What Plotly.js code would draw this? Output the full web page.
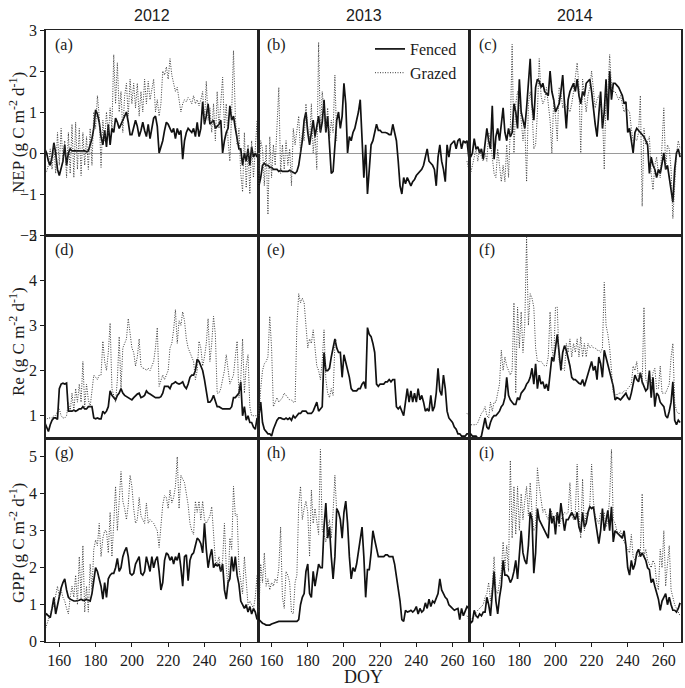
<!DOCTYPE html>
<html>
<head>
<meta charset="utf-8">
<script src="https://cdn.plot.ly/plotly-3.0.1.min.js"></script>
<style>
  html, body { margin: 0; padding: 0; background: #fff; }
  #chart { width: 685px; height: 688px; }
</style>
</head>
<body>
<div id="chart"></div>
<script>
// day of year, shared by every panel
const doy = [
  152, 153, 154, 155, 156, 157, 158, 159, 160, 161,
  162, 163, 164, 165, 166, 167, 168, 169, 170, 171,
  172, 173, 174, 175, 176, 177, 178, 179, 180, 181,
  182, 183, 184, 185, 186, 187, 188, 189, 190, 191,
  192, 193, 194, 195, 196, 197, 198, 199, 200, 201,
  202, 203, 204, 205, 206, 207, 208, 209, 210, 211,
  212, 213, 214, 215, 216, 217, 218, 219, 220, 221,
  222, 223, 224, 225, 226, 227, 228, 229, 230, 231,
  232, 233, 234, 235, 236, 237, 238, 239, 240, 241,
  242, 243, 244, 245, 246, 247, 248, 249, 250, 251,
  252, 253, 254, 255, 256, 257, 258, 259, 260, 261,
  262, 263, 264, 265, 266, 267, 268, 269
];

const years = ["2012", "2013", "2014"];
const seriesNames = ["Fenced", "Grazed"];
const rowTitles = [
  "NEP (g C m<sup>-2</sup> d<sup>-1</sup>)",
  "Re (g C m<sup>-2</sup> d<sup>-1</sup>)",
  "GPP (g C m<sup>-2</sup> d<sup>-1</sup>)"
];
const panelLabels = ["(a)", "(b)", "(c)", "(d)", "(e)", "(f)", "(g)", "(h)", "(i)"];
const xTicks = [160, 180, 200, 220, 240, 260];
const yTicksNep = [-2, -1, 0, 1, 2, 3];
const yTicksRe = [1, 2, 3, 4, 5];
const yTicksGpp = [0, 1, 2, 3, 4, 5];

// ---- NEP ----
const nepFenced2012 = [
  0.1, 0.0, -0.2, -0.3, -0.1, 0.25, 0.0, -0.4, -0.55, -0.4,
  -0.2, 0.2, -0.3, 0.0, 0.1, 0.05, 0.05, 0.05, 0.05, 0.04,
  0.05, 0.04, 0.05, 0.03, 0.05, 0.2, 0.35, 0.6, 1.05, 0.95,
  0.75, 0.4, 0.2, 0.55, 0.15, 0.7, 0.2, 0.6, 0.5, 0.85,
  0.75, 0.6, 0.7, 0.8, 0.9, 1.0, 0.75, 0.45, 0.45, 0.6,
  0.8, 0.65, 0.4, 0.55, 0.75, 0.55, 0.4, 0.7, 0.35, 0.6,
  0.85, 0.9, 0.65, 0.0, 0.15, 0.3, 0.55, 0.75, 0.7, 0.6,
  0.5, 0.6, 0.35, 0.6, 0.45, 0.55, -0.15, 0.3, 0.5, 0.6,
  0.55, 0.5, 0.6, 0.4, 0.75, 0.4, 0.6, 1.25, 0.7, 0.9,
  1.2, 0.7, 0.75, 0.8, 0.6, 0.65, 0.7, 0.8, 0.0, 0.3,
  0.5, 0.6, 1.15, 0.8, 0.9, 0.6, 0.3, 0.1, 0.1, -0.3,
  0.0, -0.2, 0.1, -0.3, 0.15, -0.1, 0.0, -0.1
];
const nepGrazed2012 = [
  -0.5, -0.45, -0.3, 0.1, -0.4, 0.2, -0.5, 0.5, -0.3, 0.6,
  -0.2, 0.3, -0.6, 0.5, -0.5, 0.7, -0.6, 0.75, -0.4, 0.6,
  -0.55, 0.5, -0.3, 0.4, -0.4, 0.6, -0.3, 1.0, 0.6, 1.4,
  0.9, -0.35, 0.8, 0.3, 1.0, 0.4, 1.1, 0.6, 2.4, 1.2,
  2.2, 1.0, 1.5, 0.5, 1.4, 1.7, 0.9, 1.8, 1.2, 1.7,
  1.1, 1.7, 0.9, 1.5, 1.0, 1.8, 1.2, 1.75, 1.3, 1.6,
  1.8, 1.0, 1.3, 0.9, 1.2, 2.0, 1.9, 2.1, 1.8, 2.3,
  1.9, 1.7, 1.5, 1.6, 1.3, 1.0, 1.2, 1.3, 1.25, 1.35,
  1.3, 1.2, 1.4, 1.2, 1.3, 1.15, 1.3, 1.5, 0.7, 1.75,
  0.8, 1.1, 0.5, 1.2, 0.3, 1.5, 0.6, 1.3, 1.85, 0.6,
  1.2, 0.3, -0.2, 1.0, 2.5, 0.9, 0.2, 0.6, -0.5, -0.95,
  0.5, -0.85, 0.2, -1.0, 0.3, -0.6, 0.2, 0.8
];
const nepFenced2013 = [
  -0.3, -0.8, -0.6, -0.3, -0.25, -0.3, -0.3, -0.35, -0.35, -0.4,
  -0.4, -0.4, -0.45, -0.42, -0.45, -0.45, -0.45, -0.45, -0.42, -0.45,
  -0.48, -0.5, -0.45, -0.3, 0.0, 0.3, 0.8, 1.0, 0.5, 0.2,
  0.5, 0.8, 0.4, 0.7, 0.9, 0.5, 0.75, 1.3, 0.5, 0.9,
  0.3, -0.5, -0.45, 0.2, 0.8, 1.0, 0.6, 0.9, 1.7, 1.2,
  0.0, 0.4, 0.3, 0.5, 0.6, 0.8, 1.0, 1.3, 0.4, -0.6,
  0.2, -1.0, -0.4, 0.2, 0.3, 0.5, 0.7, 0.55, 0.55, 0.5,
  0.5, 0.5, 0.48, 0.45, 0.45, 0.7, 0.5, 0.3, -0.2, -0.8,
  -1.0, -0.6, -0.75, -0.6, -0.7, -0.8, -0.7, -0.65, -0.55, -0.5,
  -0.45, -0.4, -0.3, -0.1, 0.1, -0.2, -0.25, -0.3, -0.4, -0.8,
  -0.1, 0.2, -0.2, -0.4, -0.7, 0.2, -0.1, 0.2, 0.25, 0.3,
  0.1, 0.3, 0.35, 0.1, 0.3, 0.25, 0.3, -0.1
];
const nepGrazed2013 = [
  0.8, -0.8, 0.3, 0.1, -0.8, 0.2, -1.5, 0.4, -0.6, 0.2,
  -0.3, 0.5, 1.6, -0.5, 0.2, -0.4, 0.3, -0.3, 0.1, -0.8,
  0.6, 0.2, 0.5, 0.9, 0.0, 0.5, 0.3, 1.2, 0.6, 0.3,
  1.2, 0.0, 0.5, -0.4, 2.7, 0.5, 1.5, 0.9, 0.5, 1.1,
  0.3, 0.8, 0.5, 1.9, 0.3, null, null, null, null, null,
  null, null, null, null, null, null, null, null, null, null,
  null, null, null, null, null, null, null, null, null, null,
  null, null, null, null, null, null, null, null, null, null,
  null, null, null, null, null, null, null, null, null, null,
  null, null, null, null, null, null, null, null, null, null,
  null, null, null, null, null, null, null, null, null, null,
  null, null, null, null, null, null, -0.2, -0.4
];
const nepFenced2014 = [
  0.2, -0.1, 0.0, 0.35, 0.1, 0.15, 0.0, 0.1, -0.15, 0.2,
  0.6, 0.3, 0.1, 1.15, -0.15, 0.4, 0.6, 0.3, 0.7, 1.1,
  0.5, 0.3, 0.6, 0.4, 0.5, 1.2, 1.0, 0.6, 1.8, 1.0,
  0.8, 0.6, 1.1, 1.6, 2.3, 1.2, 0.8, 1.6, 1.8, 1.75,
  1.6, 1.7, 1.5, 1.45, 1.4, 2.0, 1.5, 1.3, 1.0, 1.1,
  1.2, 1.5, 1.9, 1.2, 0.6, 1.3, 1.5, 1.6, 1.7, 1.5,
  1.8, 1.4, 1.2, 1.5, 1.4, 1.7, 1.75, 1.8, 1.5, 1.0,
  0.7, 0.4, 1.0, 1.5, 0.6, 1.0, 1.8, 0.8, 2.0, 1.3,
  1.7, 1.7, 1.65, 1.6, 1.5, 1.4, 1.2, 1.25, 0.5, 0.6,
  0.3, 0.0, 0.5, 0.6, 0.55, 0.5, 0.45, 0.4, 0.3, 0.2,
  -0.5, -0.1, -0.3, -0.4, -0.6, -0.4, -0.5, -0.2, 0.0, -0.4,
  -0.3, -0.6, -0.9, -1.2, -0.4, 0.0, 0.1, -0.1
];
const nepGrazed2014 = [
  -0.3, -0.5, -0.3, -0.1, 0.1, -0.2, 0.1, -0.1, -0.2, 0.0,
  -0.2, 0.5, 0.3, -0.1, -0.5, -0.6, 0.1, -0.3, -0.7, -0.3,
  -0.7, 0.2, -0.6, 0.6, 2.65, 0.0, 1.2, 1.5, 1.3, 0.8,
  0.3, 0.7, -0.7, 1.2, 1.5, 1.1, 0.1, 0.2, 1.0, 2.3,
  1.4, 1.2, 1.3, 1.6, 1.2, 0.8, 0.0, 1.3, 0.9, 0.3,
  1.6, 1.5, 1.1, 1.2, 1.15, 1.1, 1.0, 1.2, 1.5, 1.8,
  2.2, 1.6, 0.0, 1.8, 1.4, 1.0, 1.4, 1.6, 2.0, 1.6,
  1.1, 1.3, 1.4, 1.2, 1.0, -0.4, 1.5, 1.4, 2.4, 1.6,
  1.5, 1.5, 1.4, 1.3, 1.4, 1.2, 1.0, 1.1, 1.05, 1.0,
  0.6, 0.3, 0.35, 0.3, 0.5, 1.4, -1.3, 0.6, 0.2, 0.3,
  0.4, -0.5, -0.9, -0.3, -0.1, -0.5, -0.6, 0.2, 1.1, -0.4,
  0.2, 0.1, -0.4, -1.6, -0.6, 0.0, 0.3, 0.1
];

// ---- Re ----
const reFenced2012 = [
  0.85, 0.75, 0.65, 0.8, 0.9, 0.95, 0.95, 0.92, 1.6, 1.7,
  1.72, 1.7, 1.72, 1.1, 1.1, 1.1, 1.12, 1.1, 1.12, 1.15,
  1.15, 1.2, 1.15, 1.15, 1.2, 1.2, 1.2, 0.95, 0.93, 0.95,
  0.93, 0.93, 1.1, 1.05, 1.1, 1.2, 1.55, 1.45, 1.4, 1.35,
  1.45, 1.5, 1.6, 1.5, 1.45, 1.42, 1.4, 1.38, 1.35, 1.4,
  1.45, 1.48, 1.5, 1.4, 1.42, 1.45, 1.55, 1.5, 1.48, 1.45,
  1.42, 1.4, 1.4, 1.4, 1.42, 1.5, 1.65, 1.65, 1.65, 1.6,
  1.7, 1.72, 1.75, 1.72, 1.7, 1.72, 1.75, 1.65, 1.6, 1.7,
  1.85, 1.9, 1.9, 2.0, 2.25, 2.2, 2.1, 2.0, 1.8, 1.5,
  1.3, 1.3, 1.35, 1.45, 1.3, 1.2, 1.2, 1.18, 1.15, 1.15,
  1.15, 1.15, 1.15, 1.2, 1.4, 1.4, 1.45, 1.5, 1.75, 1.0,
  1.2, 0.9, 1.0, 0.85, 0.85, 0.75, 0.7, 0.95
];
const reGrazed2012 = [
  0.9, 0.92, 0.95, 0.95, 0.95, 1.0, 1.0, 1.1, 1.15, 1.0,
  0.95, 0.95, 1.0, 1.3, 1.1, 1.5, 1.1, 1.6, 1.3, 1.7,
  1.3, 2.2, 1.2, 1.7, 1.35, 1.2, 1.5, 1.9, 1.85, 1.8,
  1.9, 1.9, 2.65, 2.2, 2.0, 2.4, 3.05, 1.6, 1.45, 1.3,
  1.8, 2.75, 1.6, 2.5, 2.6, 2.7, 3.15, 2.8, 2.5, 2.4,
  2.1, 2.3, 2.7, 2.1, 2.05, 2.05, 2.0, 2.05, 2.0, 2.1,
  2.2, 2.5, 2.95, 1.65, 1.8, 1.9, 1.8, 1.9, 2.0, 2.5,
  2.6, 2.9, 3.35, 2.6, 3.1, 3.0, 3.3, 3.1, 2.7, 2.5,
  2.4, 2.3, 2.2, 1.8, 2.0, 2.65, 2.5, 2.1, 2.3, 2.6,
  3.15, 2.2, 2.6, 3.2, 2.8, 1.5, 1.5, 1.6, 1.8, 2.0,
  2.35, 2.0, 1.7, 1.8, 1.9, 2.3, 2.65, 1.4, 1.8, 2.7,
  1.5, 2.1, 2.35, 1.2, 1.0, 1.0, 1.0, 1.0
];
const reFenced2013 = [
  0.8, 1.0, 1.3, 0.85, 0.7, 0.65, 0.6, 0.6, 0.55, 0.7,
  0.8, 0.9, 0.95, 0.95, 0.93, 0.92, 0.95, 0.92, 0.95, 0.9,
  1.0, 0.95, 1.0, 1.05, 1.05, 1.1, 1.1, 1.1, 1.05, 1.05,
  1.05, 1.1, 1.2, 1.3, 1.1, 1.15, 1.2, 2.4, 2.0, 2.0,
  2.05, 2.3, 2.5, 2.7, 2.5, 2.4, 2.4, 1.85, 2.35, 2.2,
  2.0, 1.85, 1.6, 1.55, 1.55, 1.55, 1.6, 1.6, 1.7, 1.75,
  1.6, 2.95, 2.8, 2.75, 2.6, 2.4, 1.7, 1.65, 1.7, 1.7,
  1.7, 1.75, 1.75, 1.8, 1.75, 1.8, 1.8, 1.2, 1.15, 1.2,
  1.1, 1.0, 1.3, 1.6, 1.3, 1.55, 1.3, 1.5, 1.3, 1.6,
  1.35, 1.45, 1.3, 1.1, 1.15, 1.1, 1.45, 1.1, 1.2, 1.5,
  2.05, 1.55, 1.45, 1.9, 1.6, 1.1, 0.95, 0.9, 0.85, 0.75,
  0.7, 0.6, 0.6, 0.55, 0.55, 0.55, 0.6, 0.6
];
const reGrazed2013 = [
  1.4, 1.0, 1.6, 2.0, 2.15, 2.2, 2.3, 3.2, 2.5, 1.2,
  1.3, 1.4, 1.3, 1.35, 1.4, 1.5, 1.45, 1.4, 1.35, 1.35,
  1.3, 1.3, 3.0, 3.7, 3.5, 3.6, 3.5, 3.0, 2.5, 2.7,
  2.6, 2.9, 2.4, 2.1, 2.0, 1.8, 2.2, 2.9, 1.8, 1.5,
  1.4, 1.6, 1.45, 2.6, 2.7, null, null, null, null, null,
  null, null, null, null, null, null, null, null, null, null,
  null, null, null, null, null, null, null, null, null, null,
  null, null, null, null, null, null, null, null, null, null,
  null, null, null, null, null, null, null, null, null, null,
  null, null, null, null, null, null, null, null, null, null,
  null, null, null, null, null, null, null, null, null, null,
  null, null, null, null, null, null, 1.05, 1.0
];
const reFenced2014 = [
  0.6, 0.6, 0.55, 0.55, 0.55, 0.5, 0.5, 0.55, 0.8, 0.95,
  0.75, 0.7, 0.85, 0.95, 1.0, 1.0, 1.05, 1.1, 1.2, 1.25,
  1.4, 1.85, 1.45, 1.35, 1.3, 1.25, 1.25, 1.4, 1.35, 1.5,
  1.55, 1.6, 1.7, 1.75, 1.85, 2.05, 1.7, 2.15, 1.6, 1.9,
  1.7, 1.75, 1.6, 1.7, 1.55, 1.9, 2.3, 2.2, 2.5, 2.8,
  2.4, 2.0, 2.4, 2.55, 2.45, 2.3, 2.1, 1.85, 1.8, 1.8,
  1.75, 1.72, 1.7, 1.8, 1.65, 1.8, 1.9, 2.1, 2.2, 2.0,
  2.1, 1.8, 2.3, 2.15, 1.85, 2.45, 2.3, 2.1, 2.0, 1.8,
  1.65, 1.35, 1.4, 1.38, 1.35, 1.4, 1.45, 1.5, 1.4, 1.35,
  1.5, 1.7, 1.9, 1.8, 1.75, 1.95, 1.75, 1.65, 1.55, 1.6,
  2.0, 1.4, 1.85, 1.2, 1.5, 1.45, 1.3, 1.25, 1.2, 1.0,
  0.95, 1.1, 1.3, 1.75, 0.9, 0.8, 0.9, 0.85
];
const reGrazed2014 = [
  0.95, 0.8, 0.8, 0.8, 0.8, 0.85, 0.95, 1.05, 1.1, 1.2,
  1.0, 0.95, 1.3, 1.1, 1.3, 1.3, 1.5, 1.7, 2.45, 2.0,
  2.3, 2.1, 2.0, 1.9, 2.0, 3.5, 1.5, 3.4, 2.5, 3.3,
  2.4, 3.0, 4.95, 3.0, 3.7, 3.6, 3.4, 2.5, 2.2, 2.2,
  2.2, 2.15, 2.1, 2.1, 2.3, 3.3, 2.5, 2.2, 3.4, 3.4,
  2.2, 2.1, 2.05, 2.0, 2.6, 2.4, 2.7, 2.3, 2.6, 2.4,
  2.7, 2.3, 2.75, 2.3, 2.6, 2.3, 2.6, 2.5, 2.55, 2.5,
  2.5, 2.45, 2.45, 2.4, 2.5, 3.95, 3.0, 2.8, 2.5, 1.95,
  1.5, 1.5, 1.45, 1.5, 1.5, 1.5, 1.55, 1.55, 1.6, 1.65,
  1.7, 2.1, 2.0, 2.2, 1.8, 1.95, 1.7, 3.4, 1.8, 1.7,
  1.8, 1.7, 1.95, 2.05, 1.6, 1.6, 2.1, 1.5, 1.5, 1.5,
  1.6, 1.7, 2.3, 2.6, 1.3, 1.1, 1.05, 1.05
];

// ---- GPP ----
const gppFenced2012 = [
  0.7, 0.75, 0.7, 0.65, 0.9, 1.2, 0.75, 1.0, 1.3, 1.45,
  1.6, 1.7, 1.4, 1.2, 1.15, 1.12, 1.1, 1.1, 1.1, 1.12,
  1.15, 1.12, 1.12, 1.15, 1.12, 1.1, 1.3, 1.6, 2.0, 1.9,
  1.7, 1.5, 1.15, 1.6, 1.2, 1.7, 1.8, 1.85, 1.85, 2.0,
  2.25, 1.9, 2.0, 2.3, 2.45, 2.55, 2.3, 1.85, 1.8, 1.85,
  2.1, 2.2, 2.3, 1.85, 1.8, 1.9, 2.3, 2.1, 1.9, 2.3,
  2.0, 2.2, 2.3, 1.9, 1.4, 1.6, 2.2, 2.4, 2.35, 2.2,
  2.3, 2.1, 2.3, 2.2, 2.4, 2.0, 1.5, 2.3, 2.35, 1.65,
  2.2, 2.35, 2.4, 2.6, 2.8, 2.75, 2.65, 2.4, 3.2, 2.5,
  2.0, 2.3, 2.5, 2.0, 2.1, 2.05, 2.1, 1.9, 2.1, 1.4,
  1.15, 1.6, 1.7, 2.3, 1.9, 2.3, 1.8, 1.55, 1.1, 1.0,
  0.9, 1.0, 0.8, 0.95, 0.75, 0.9, 0.8, 0.6
];
const gppGrazed2012 = [
  0.3, 0.45, 0.6, 0.8, 0.9, 1.0, 1.3, 1.5, 1.2, 1.4,
  1.2, 1.1, 0.9, 0.75, 1.2, 1.5, 1.2, 1.8, 1.0, 2.3,
  1.2, 2.6, 0.8, 1.5, 0.8, 2.1, 1.4, 2.5, 2.75, 2.6,
  3.2, 2.3, 2.8, 3.0, 3.0, 2.4, 3.5, 2.3, 3.2, 4.2,
  3.0, 3.7, 4.6, 3.8, 3.6, 3.3, 3.7, 4.5, 4.2, 3.6,
  3.2, 3.3, 3.9, 3.4, 3.3, 3.2, 3.75, 3.2, 3.3, 3.25,
  3.2, 3.1, 3.0, 2.55, 3.2, 3.7, 3.95, 3.9, 3.6, 4.1,
  3.75, 3.9, 4.2, 5.0, 3.6, 4.5, 4.4, 4.3, 4.0, 3.7,
  3.2, 3.0, 2.9, 3.8, 3.5, 3.8, 3.3, 3.8, 3.3, 3.2,
  3.3, 3.4, 3.65, 3.0, 2.2, 2.1, 2.3, 1.9, 2.2, 3.2,
  2.0, 1.5, 2.8, 2.5, 4.2, 3.4, 3.45, 2.0, 1.6, 1.3,
  2.3, 1.5, 1.0, 1.1, 1.0, 0.9, 1.2, 1.8
];
const gppFenced2013 = [
  0.85, 0.6, 0.55, 0.5, 0.48, 0.45, 0.45, 0.45, 0.48, 0.5,
  0.5, 0.52, 0.55, 0.55, 0.55, 0.55, 0.55, 0.56, 0.55, 0.55,
  0.55, 0.56, 0.55, 0.6, 1.0, 1.2, 1.3, 1.9, 2.1, 1.3,
  1.2, 1.9, 1.5, 1.8, 2.1, 2.0, 2.0, 3.1, 3.75, 2.8,
  3.1, 2.3, 1.7, 2.3, 3.6, 3.5, 3.3, 2.8, 3.5, 3.8,
  3.2, 2.3, 1.7, 2.0, 1.9, 2.1, 2.4, 2.8, 3.1, 2.3,
  1.2, 1.95, 1.95, 2.4, 3.0, 2.75, 2.5, 2.3, 2.3, 2.3,
  2.3, 2.35, 2.35, 2.3, 2.3, 2.3, 2.1, 1.8, 1.5, 1.1,
  0.6, 0.55, 0.85, 0.8, 0.82, 0.85, 0.8, 0.85, 0.95, 0.75,
  0.9, 0.8, 0.85, 1.05, 0.9, 1.15, 0.95, 1.1, 1.05, 1.2,
  1.3, 1.7, 1.4, 1.3, 1.2, 1.15, 1.0, 0.95, 0.9, 0.85,
  0.88, 0.9, 0.6, 0.9, 0.7, 0.85, 0.95, 0.9
];
const gppGrazed2013 = [
  1.5, 0.8, 2.1, 1.6, 2.4, 1.5, 1.7, 1.4, 1.6, 1.5,
  1.7, 1.6, 2.0, 3.1, 1.2, 0.9, 1.9, 1.8, 1.6, 0.8,
  0.75, 1.6, 1.8, 3.7, 4.2, 3.3, 3.6, 3.8, 3.5, 2.3,
  4.1, 3.2, 3.6, 3.3, 2.9, 5.2, 3.0, 2.9, 2.7, 3.0,
  3.3, 2.8, 3.5, 4.5, 3.5, null, null, null, null, null,
  null, null, null, null, null, null, null, null, null, null,
  null, null, null, null, null, null, null, null, null, null,
  null, null, null, null, null, null, null, null, null, null,
  null, null, null, null, null, null, null, null, null, null,
  null, null, null, null, null, null, null, null, null, null,
  null, null, null, null, null, null, null, null, null, null,
  null, null, null, null, null, null, 0.7, 0.6
];
const gppFenced2014 = [
  0.85, 0.5, 0.55, 0.85, 0.7, 0.65, 0.75, 0.7, 0.8, 0.8,
  1.2, 1.0, 0.7, 1.2, 1.9, 1.1, 0.75, 1.2, 1.5, 2.2,
  1.8, 1.8, 1.75, 1.6, 1.7, 1.9, 2.2, 1.7, 2.3, 3.0,
  2.4, 2.2, 2.1, 2.6, 3.5, 3.3, 1.85, 2.4, 3.6, 3.3,
  3.2, 3.1, 3.0, 2.9, 2.8, 3.6, 3.2, 3.4, 2.9, 3.5,
  3.2, 3.75, 3.3, 3.0, 3.3, 3.3, 3.4, 3.5, 3.4, 3.3,
  3.5, 3.1, 2.95, 3.5, 3.1, 3.2, 3.5, 3.65, 3.6, 3.65,
  3.3, 3.0, 2.65, 3.0, 3.6, 3.0, 3.3, 3.55, 3.0, 3.65,
  2.7, 3.0, 2.95, 2.9, 2.85, 2.8, 3.0, 2.6, 2.0, 1.8,
  2.2, 1.95, 2.1, 2.4, 2.5, 2.3, 2.4, 2.3, 2.2, 2.0,
  1.95, 1.6, 1.7, 1.5, 1.3, 1.15, 0.85, 1.1, 1.2, 1.3,
  1.0, 1.2, 1.0, 0.85, 0.85, 0.8, 0.9, 1.05
];
const gppGrazed2014 = [
  0.7, 0.65, 0.6, 0.7, 0.8, 0.85, 0.9, 0.95, 1.0, 1.2,
  1.3, 1.6, 1.1, 1.5, 2.3, 1.4, 1.3, 1.6, 1.9, 2.7,
  2.0, 2.6, 1.9, 4.9, 2.8, 4.2, 2.9, 4.2, 3.0, 4.0,
  3.3, 3.8, 4.2, 3.4, 4.3, 3.5, 3.0, 3.1, 4.7, 4.2,
  3.8, 3.5, 3.6, 3.4, 3.3, 3.6, 3.5, 3.2, 3.4, 3.5,
  3.1, 3.3, 3.4, 3.5, 3.45, 3.5, 4.3, 3.4, 3.3, 3.5,
  4.8, 3.4, 2.8, 4.4, 3.0, 3.5, 3.4, 3.7, 4.8, 3.8,
  3.4, 3.3, 3.2, 3.5, 3.3, 3.5, 3.1, 3.3, 3.9, 5.2,
  3.3, 3.2, 3.0, 2.9, 3.0, 2.8, 2.7, 2.6, 2.5, 2.4,
  2.9, 2.3, 2.2, 2.4, 2.3, 2.4, 4.0, 2.3, 2.5, 2.2,
  2.1, 2.0, 2.2, 2.1, 1.6, 1.4, 2.5, 2.0, 3.0, 1.5,
  2.1, 2.6, 1.4, 1.2, 1.0, 0.9, 0.8, 0.7
];

const panelData = [
  [nepFenced2012, nepGrazed2012], [nepFenced2013, nepGrazed2013], [nepFenced2014, nepGrazed2014],
  [reFenced2012, reGrazed2012], [reFenced2013, reGrazed2013], [reFenced2014, reGrazed2014],
  [gppFenced2012, gppGrazed2012], [gppFenced2013, gppGrazed2013], [gppFenced2014, gppGrazed2014]
];

// ---- layout geometry (pixels in a 685 x 688 page) ----
const W = 685, H = 688;
const colEdges = [45.7, 258, 469.7, 681];
const rowEdges = [30, 235, 438.3, 641.7];
const rowRanges = [[-2, 3], [0.5, 5], [0, 5.5]];
const rowTicks = [yTicksNep, yTicksRe, yTicksGpp];

const serif = "Liberation Serif, Times New Roman, serif";
const sans = "Liberation Sans, Arial, sans-serif";
const ink = "#1a1a1a";

const traces = [];
const layout = {
  width: W,
  height: H,
  margin: { l: 0, r: 0, t: 0, b: 0 },
  paper_bgcolor: "#ffffff",
  plot_bgcolor: "rgba(0,0,0,0)",
  font: { family: serif, size: 16, color: ink },
  showlegend: true,
  legend: {
    x: 370 / W,
    y: 1 - 32 / H,
    xanchor: "left",
    yanchor: "top",
    bgcolor: "rgba(0,0,0,0)",
    font: { family: serif, size: 16, color: ink },
    tracegroupgap: 0
  },
  annotations: []
};

for (let r = 0; r < 3; r++) {
  for (let c = 0; c < 3; c++) {
    const k = r * 3 + c + 1;
    const suffix = k === 1 ? "" : String(k);
    const [fenced, grazed] = panelData[k - 1];

    traces.push({
      x: doy, y: fenced, xaxis: "x" + suffix, yaxis: "y" + suffix,
      type: "scatter", mode: "lines", name: seriesNames[0],
      line: { color: "#111", width: 1.7 },
      showlegend: k === 1, legendrank: 1
    });
    traces.push({
      x: doy, y: grazed, xaxis: "x" + suffix, yaxis: "y" + suffix,
      type: "scatter", mode: "lines", name: seriesNames[1],
      line: { color: "#3a3a3a", width: 1, dash: "1px,1.5px" },
      connectgaps: false,
      showlegend: k === 1, legendrank: 2
    });

    const bottom = r === 2;
    const left = c === 0;

    layout["xaxis" + suffix] = {
      domain: [colEdges[c] / W, colEdges[c + 1] / W],
      anchor: "y" + suffix,
      range: [152.5, 269.5],
      tickvals: xTicks,
      showticklabels: bottom,
      ticks: bottom ? "outside" : "",
      ticklen: 4,
      tickcolor: ink,
      tickfont: { family: serif, size: 16, color: ink },
      showgrid: false,
      zeroline: false,
      showline: true,
      mirror: true,
      linecolor: "#222",
      linewidth: 1.5
    };
    layout["yaxis" + suffix] = {
      domain: [1 - rowEdges[r + 1] / H, 1 - rowEdges[r] / H],
      anchor: "x" + suffix,
      range: rowRanges[r],
      tickvals: rowTicks[r],
      showticklabels: left,
      ticks: left ? "outside" : "",
      ticklen: 4,
      tickcolor: ink,
      tickfont: { family: serif, size: 16, color: ink },
      showgrid: false,
      zeroline: r === 0,
      zerolinecolor: "#9a9a9a",
      zerolinewidth: 1,
      showline: true,
      mirror: true,
      linecolor: "#222",
      linewidth: 1.5
    };

    layout.annotations.push({
      text: panelLabels[k - 1],
      xref: "paper", yref: "paper",
      x: (colEdges[c] + 7) / W, y: 1 - (rowEdges[r] + 15) / H,
      xanchor: "left", yanchor: "middle",
      showarrow: false,
      font: { family: serif, size: 16, color: ink }
    });
  }
}

years.forEach((yr, c) => {
  layout.annotations.push({
    text: yr,
    xref: "paper", yref: "paper",
    x: (colEdges[c] + colEdges[c + 1]) / 2 / W, y: 1 - 15 / H,
    xanchor: "center", yanchor: "middle",
    showarrow: false,
    font: { family: sans, size: 16, color: ink }
  });
});

const titleCenters = [133, 342, 543];
rowTitles.forEach((t, r) => {
  layout.annotations.push({
    text: t,
    xref: "paper", yref: "paper",
    x: 17 / W, y: 1 - titleCenters[r] / H,
    xanchor: "center", yanchor: "middle",
    textangle: -90,
    showarrow: false,
    font: { family: serif, size: 17, color: ink }
  });
});

layout.annotations.push({
  text: "DOY",
  xref: "paper", yref: "paper",
  x: 363 / W, y: 1 - 677 / H,
  xanchor: "center", yanchor: "middle",
  showarrow: false,
  font: { family: serif, size: 18, color: ink }
});

Plotly.newPlot("chart", traces, layout, { displayModeBar: false, staticPlot: true });
</script>
</body>
</html>
